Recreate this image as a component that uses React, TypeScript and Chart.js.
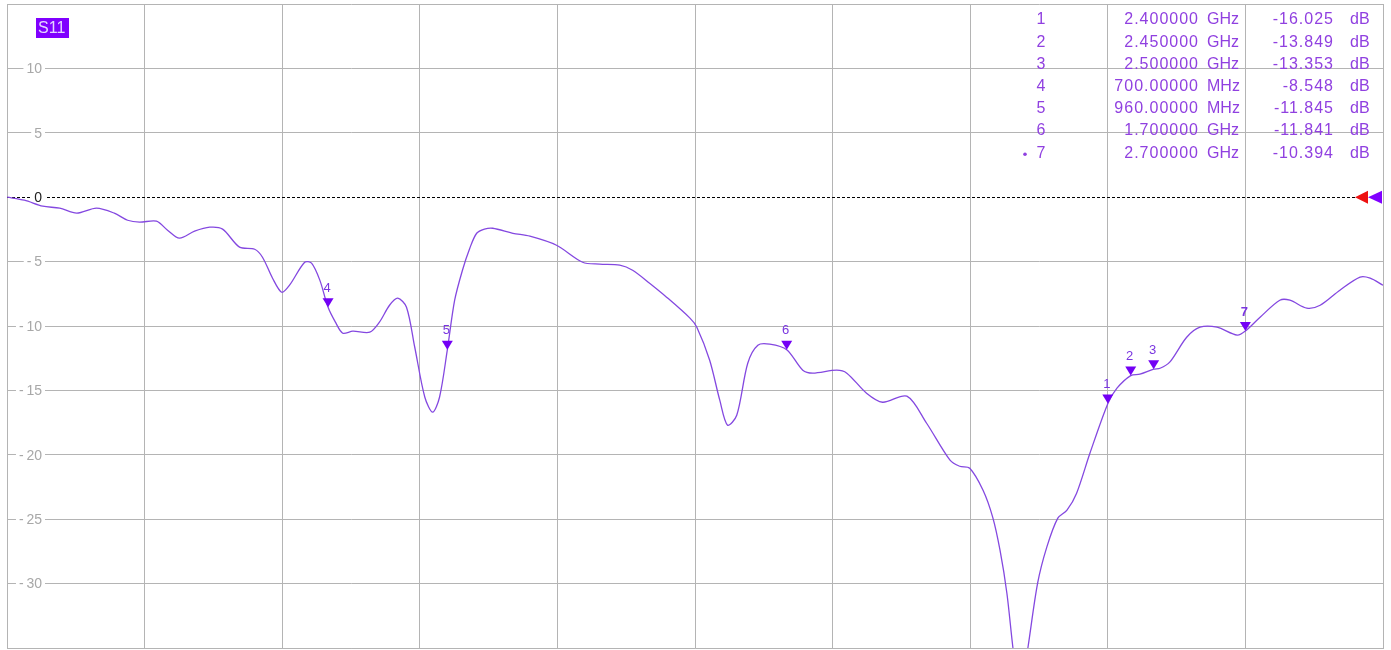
import { useEffect, useRef } from 'react';
import { Chart, registerables } from 'chart.js';

Chart.register(...registerables);

// ---- data ----
const freqGHz = [
  0, 0.038, 0.078, 0.115, 0.152, 0.195, 0.234, 0.263, 0.289, 0.326,
  0.35, 0.376, 0.409, 0.442, 0.47, 0.507, 0.54, 0.557, 0.579, 0.599,
  0.616, 0.649, 0.664, 0.682, 0.7, 0.716, 0.732, 0.754, 0.791, 0.812,
  0.834, 0.852, 0.871, 0.889, 0.911, 0.928, 0.943, 0.96, 0.976, 0.993,
  1.009, 1.024, 1.041, 1.059, 1.103, 1.14, 1.198, 1.255, 1.292, 1.336,
  1.364, 1.401, 1.438, 1.489, 1.504, 1.532, 1.554, 1.571, 1.591, 1.615,
  1.637, 1.663, 1.7, 1.735, 1.757, 1.809, 1.831, 1.874, 1.909, 1.962,
  2.005, 2.056, 2.077, 2.099, 2.128, 2.149, 2.165, 2.18, 2.193, 2.208,
  2.226, 2.247, 2.267, 2.291, 2.311, 2.332, 2.361, 2.4, 2.42, 2.45,
  2.47, 2.5, 2.514, 2.535, 2.572, 2.601, 2.638, 2.682, 2.7, 2.732,
  2.775, 2.797, 2.834, 2.863, 2.906, 2.95, 2.972, 3.0,
];
const s11dB = [
  0, -0.23, -0.7, -0.85, -1.24, -0.85, -1.24, -1.79, -1.94, -1.86,
  -2.56, -3.18, -2.64, -2.33, -2.48, -3.88, -4.04, -4.66, -6.29, -7.38,
  -6.83, -5.05, -5.12, -6.44, -8.55, -9.7, -10.56, -10.4, -10.48, -9.7,
  -8.39, -7.84, -8.54, -11.65, -15.53, -16.69, -15.53, -11.85, -8.0, -5.67,
  -3.96, -2.8, -2.48, -2.41, -2.8, -3.03, -3.73, -5.05, -5.2, -5.28,
  -5.67, -6.68, -7.76, -9.39, -10.09, -12.66, -15.76, -17.7, -16.93, -12.89,
  -11.49, -11.41, -11.84, -13.43, -13.66, -13.43, -13.66, -15.22, -15.92, -15.45,
  -17.55, -20.42, -20.89, -21.04, -22.75, -24.84, -27.41, -30.75, -34.94, -39,
  -34.94, -29.97, -27.17, -24.92, -24.3, -22.98, -19.88, -16.03, -14.83, -13.85,
  -13.74, -13.35, -13.28, -12.81, -10.87, -10.09, -10.09, -10.71, -10.39, -9.32,
  -8.0, -8.0, -8.62, -8.39, -7.22, -6.21, -6.29, -6.83,
];

const markerIds = ['1', '2', '3', '4', '5', '6', '7'];
const markerFreqGHz = [2.4, 2.45, 2.5, 0.7, 0.96, 1.7, 2.7];
const markerDB = [-16.025, -13.849, -13.353, -8.548, -11.845, -11.841, -10.394];
const activeMarker = '7';

const xGridGHz = [0, 0.3, 0.6, 0.9, 1.2, 1.5, 1.8, 2.1, 2.4, 2.7, 3.0];
const yGridDB = [15, 10, 5, 0, -5, -10, -15, -20, -25, -30, -35];
const yLabelDB = [10, 5, 0, -5, -10, -15, -20, -25, -30];
const traceName = 'S11';

// ---- styles ----
const GRID = '#b4b4b4';
const LINE = '#8448e0';
const MARK = '#7300f5';
const TEXT = '#9040e0';
const FONT = '"Liberation Sans", Arial, sans-serif';

function freqText(f: number): [string, string] {
  if (f < 1) return [(f * 1000).toFixed(5), 'MHz'];
  return [f.toFixed(6), 'GHz'];
}

const overlay = {
  id: 'overlay',
  beforeDatasetsDraw(chart: any) {
    const { ctx, chartArea: a, scales } = chart;
    const y = scales.y;
    const y0 = Math.round(y.getPixelForValue(0)) + 0.5;
    ctx.save();
    ctx.strokeStyle = '#000';
    ctx.lineWidth = 1;
    ctx.setLineDash([3, 2]);
    ctx.beginPath();
    ctx.moveTo(a.left, y0);
    ctx.lineTo(a.right - 27, y0);
    ctx.stroke();
    ctx.restore();

    ctx.save();
    ctx.font = '14px ' + FONT;
    ctx.textAlign = 'right';
    ctx.textBaseline = 'middle';
    const rx = a.left + 35;
    yLabelDB.forEach((v) => {
      const py = y.getPixelForValue(v);
      const t = String(v).replace('-', '-\u2009');
      const w = ctx.measureText(t).width;
      ctx.fillStyle = '#fff';
      ctx.fillRect(rx - w - 3, py - 6, w + 6, 12);
      ctx.fillStyle = v === 0 ? '#222' : '#a8a8a8';
      ctx.fillText(t, rx, py + 1);
    });
    ctx.restore();
  },
  afterDatasetsDraw(chart: any) {
    const { ctx, chartArea: a, scales } = chart;
    const x = scales.x;
    const y = scales.y;

    // markers
    ctx.save();
    markerIds.forEach((id, i) => {
      const px = x.getPixelForValue(markerFreqGHz[i]);
      const py = y.getPixelForValue(markerDB[i]);
      ctx.fillStyle = MARK;
      ctx.beginPath();
      ctx.moveTo(px, py);
      ctx.lineTo(px - 5.5, py - 9);
      ctx.lineTo(px + 5.5, py - 9);
      ctx.closePath();
      ctx.fill();
      ctx.font = (id === activeMarker ? 'bold ' : '') + '13px ' + FONT;
      ctx.textAlign = 'center';
      ctx.textBaseline = 'middle';
      ctx.fillStyle = '#7a35e0';
      ctx.fillText(id, px - 1, py - 19);
    });
    ctx.restore();

    // reference triangles on right
    const y0 = y.getPixelForValue(0);
    ctx.save();
    ctx.fillStyle = '#ee1111';
    ctx.beginPath();
    ctx.moveTo(a.right - 28, y0);
    ctx.lineTo(a.right - 15, y0 - 6.5);
    ctx.lineTo(a.right - 15, y0 + 6.5);
    ctx.closePath();
    ctx.fill();
    ctx.fillStyle = '#8000ff';
    ctx.beginPath();
    ctx.moveTo(a.right - 15, y0);
    ctx.lineTo(a.right - 1, y0 - 6.5);
    ctx.lineTo(a.right - 1, y0 + 6.5);
    ctx.closePath();
    ctx.fill();
    ctx.restore();

    // marker table
    ctx.save();
    ctx.fillStyle = TEXT;
    ctx.textBaseline = 'middle';
    markerIds.forEach((id, i) => {
      const ry = 20 + i * 22.2;
      ctx.font = '16px ' + FONT;
      (ctx as any).letterSpacing = '0px';
      ctx.textAlign = 'center';
      ctx.fillText(id, 1041, ry);
      if (id === activeMarker) {
        ctx.beginPath();
        ctx.arc(1025, ry + 1, 1.8, 0, Math.PI * 2);
        ctx.fill();
      }
      const [num, unit] = freqText(markerFreqGHz[i]);
      (ctx as any).letterSpacing = '1px';
      ctx.textAlign = 'right';
      ctx.fillText(num, 1199, ry);
      ctx.fillText(markerDB[i].toFixed(3), 1334, ry);
      (ctx as any).letterSpacing = '0px';
      ctx.textAlign = 'left';
      ctx.fillText(unit, 1207, ry);
      ctx.fillText('dB', 1350, ry);
    });
    ctx.restore();

    // trace label
    ctx.save();
    ctx.fillStyle = '#8000ff';
    ctx.fillRect(36, 18, 33, 20);
    ctx.fillStyle = '#e4d6ff';
    ctx.font = '16px ' + FONT;
    ctx.textAlign = 'left';
    ctx.textBaseline = 'middle';
    ctx.fillText(traceName, 38, 29);
    ctx.restore();
  },
};

export default function App() {
  const ref = useRef<HTMLCanvasElement>(null);
  useEffect(() => {
    const chart = new Chart(ref.current as HTMLCanvasElement, {
      type: 'line',
      data: {
        datasets: [
          {
            data: freqGHz.map((f, i) => ({ x: f, y: s11dB[i] })),
            borderColor: LINE,
            borderWidth: 1.3,
            pointRadius: 0,
            tension: 0.3,
            fill: false,
          },
        ],
      },
      options: {
        animation: false,
        responsive: true,
        maintainAspectRatio: false,
        layout: { padding: { left: 7, top: 4, right: 8, bottom: 2 } },
        plugins: { legend: { display: false }, tooltip: { enabled: false } },
        scales: {
          x: {
            type: 'linear',
            min: 0,
            max: 3,
            afterBuildTicks: (s: any) => {
              s.ticks = xGridGHz.map((v) => ({ value: v }));
            },
            ticks: { display: false },
            grid: { color: GRID, drawTicks: false, lineWidth: 1 },
            border: { display: true, color: GRID },
          },
          y: {
            type: 'linear',
            min: -35,
            max: 15,
            afterBuildTicks: (s: any) => {
              s.ticks = yGridDB.map((v) => ({ value: v }));
            },
            ticks: { display: false },
            grid: {
              color: (c: any) => (c.tick && c.tick.value === 0 ? 'rgba(0,0,0,0)' : GRID),
              drawTicks: false,
              lineWidth: 1,
            },
            border: { display: true, color: GRID },
          },
        },
      } as any,
      plugins: [overlay],
    });
    return () => chart.destroy();
  }, []);
  return (
    <div style={{ position: 'fixed', left: 0, top: 0, width: 1391, height: 650, background: '#fff' }}>
      <canvas ref={ref} />
    </div>
  );
}
